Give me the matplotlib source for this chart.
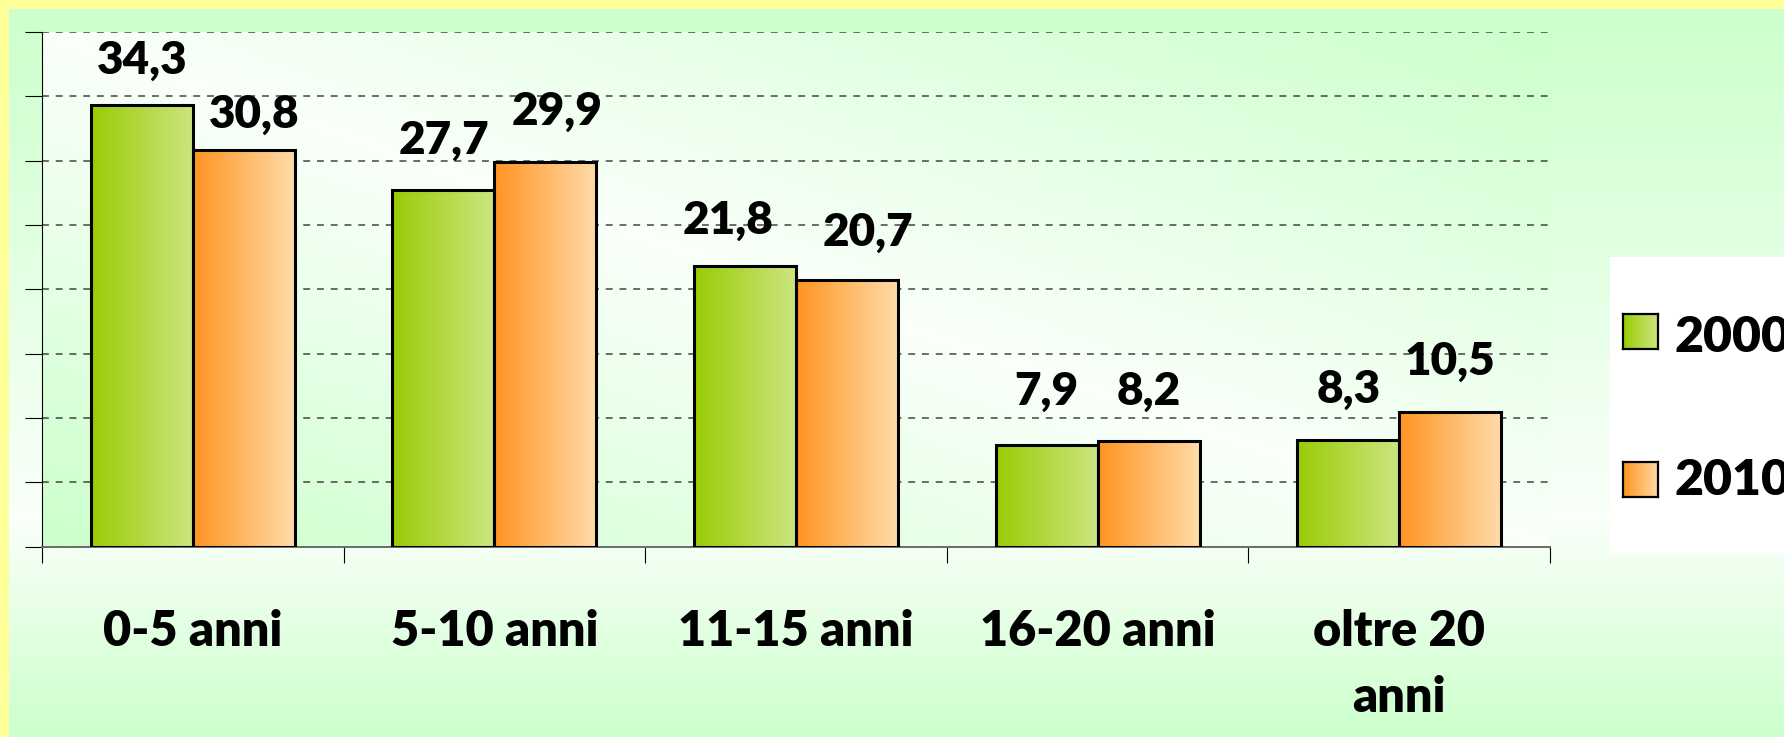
import numpy as np
import matplotlib
matplotlib.use("Agg")
import matplotlib.pyplot as plt
from matplotlib.patches import Rectangle

# dati del grafico
categorie = ['0-5 anni', '5-10 anni', '11-15 anni', '16-20 anni', 'oltre 20\nanni']
valori_2000 = [34.3, 27.7, 21.8, 7.9, 8.3]
valori_2010 = [30.8, 29.9, 20.7, 8.2, 10.5]
etichette_2000 = ['34,3', '27,7', '21,8', '7,9', '8,3']
etichette_2010 = ['30,8', '29,9', '20,7', '8,2', '10,5']
anni = ['2000', '2010']

# piccoli spostamenti delle etichette (pixel)
spost_2000 = [(0, -4), (1, 0), (-17, -4), (0, 4), (0, 1)]
spost_2010 = [(10, -13), (12, 1), (21, -1), (0, 0), (0, 1)]

plt.rcParams['font.family'] = ['Lato', 'DejaVu Sans']
PESO = 'heavy'

W, H = 1784, 737
fig = plt.figure(figsize=(W / 100, H / 100), dpi=100)

verde_chiaro = np.array([0.80, 1.0, 0.80])
bianco = np.array([0.98, 1.0, 0.98])

# sfondo dell'area grafico
bg = fig.add_axes([0, 0, 1, 1], zorder=-10)
yy, xx = np.mgrid[0:H, 0:W]
v = (yy - 9) / (H - 9)
t = np.where(v < 0.7, 1 - v / 0.7, (v - 0.7) / 0.3)
t = np.clip(t, 0, 1)
img = bianco + (verde_chiaro - bianco) * t[..., None]
img[:9, :] = [1, 1, 0.6]
img[:, :9] = [1, 1, 0.6]
bg.imshow(img, aspect='auto', interpolation='nearest')
bg.axis('off')

# area del tracciato
ax = fig.add_axes([42 / W, (H - 546.7) / H, (1550 - 42) / W, (546.7 - 32) / H])
ax.set_facecolor('none')
x = np.arange(len(categorie))
w = 0.338

u = np.linspace(0, 1, 400)[None, :]
vt = np.linspace(0, 1, 150)[:, None]
tt = np.abs(u - vt)
plot_bg = bianco + (verde_chiaro - bianco) * tt[..., None]
ax.imshow(plot_bg, extent=[-0.5, 4.5, 0, 40], aspect='auto', zorder=0.1,
          interpolation='bilinear')


def gradiente(c1, c2):
    s = np.linspace(0, 1, 256)[:, None]
    g = np.array(c1) + (np.array(c2) - np.array(c1)) * s
    return g[None, :, :]


grad_verde = gradiente([0.60, 0.80, 0.02], [0.80, 0.90, 0.50])
grad_arancio = gradiente([1.0, 0.58, 0.13], [1.0, 0.86, 0.66])

b1 = ax.bar(x - w / 2, valori_2000, w, facecolor='none', edgecolor='black', lw=2.2, zorder=3)
b2 = ax.bar(x + w / 2, valori_2010, w, facecolor='none', edgecolor='black', lw=2.2, zorder=3)

for barre, grad in [(b1, grad_verde), (b2, grad_arancio)]:
    for r in barre:
        im = ax.imshow(grad, extent=[r.get_x(), r.get_x() + r.get_width(), 0, r.get_height()],
                       aspect='auto', zorder=2.5, interpolation='bilinear')
        im.set_clip_path(r)

for barre, etich, spost in [(b1, etichette_2000, spost_2000), (b2, etichette_2010, spost_2010)]:
    for r, lab, (dx, dy) in zip(barre, etich, spost):
        ax.annotate(lab, (r.get_x() + r.get_width() / 2, r.get_height()),
                    xytext=(dx * 0.72, (36 + dy) * 0.72), textcoords='offset points',
                    ha='center', va='baseline', fontsize=33, fontweight=PESO)

ax.set_xlim(-0.5, 4.5)
ax.set_ylim(0, 40)
ax.set_yticks(np.arange(0, 41, 5))
ax.set_yticklabels([])
ax.set_xticks(np.arange(-0.5, 5, 1))
ax.set_xticklabels([])
ax.set_xticks(x, categorie, minor=True)
ax.tick_params(axis='x', which='major', length=11.5, width=0.8, color='black', direction='out')
ax.tick_params(axis='y', which='major', length=12, width=0.8, color='black', direction='out')
ax.tick_params(axis='x', which='minor', length=0, pad=45, labelsize=35)
for lab in ax.get_xticklabels(minor=True):
    lab.set_fontweight(PESO)
    lab.set_linespacing(1.55)

ax.set_axisbelow(True)
ax.yaxis.grid(True, linestyle=(0, (4.5, 4.5)), color='#444444', lw=1.1)
for s in ['top', 'right']:
    ax.spines[s].set_visible(False)
ax.spines['left'].set_color('black')
ax.spines['left'].set_linewidth(0.8)
ax.spines['bottom'].set_color('#6b6b6b')
ax.spines['bottom'].set_linewidth(1.4)

# legenda
fig.add_artist(Rectangle((1610 / W, (H - 553) / H), (W - 1610) / W, (553 - 257) / H,
                         transform=fig.transFigure, facecolor='white', edgecolor='none', zorder=1))
for i, (anno, grad) in enumerate(zip(anni, [grad_verde, grad_arancio])):
    top = [314, 462][i]
    base = [352, 495][i]
    m = fig.add_axes([1623 / W, (H - top - 35) / H, 35 / W, 35 / H], zorder=2)
    m.imshow(grad, aspect='auto', interpolation='bilinear')
    m.set_xticks([])
    m.set_yticks([])
    for s in m.spines.values():
        s.set_linewidth(1.6)
        s.set_color('black')
    fig.text(1675 / W, (H - base) / H, anno, ha='left', va='baseline',
             fontsize=36, fontweight=PESO, zorder=3)

fig.savefig('out.png', dpi=100)
